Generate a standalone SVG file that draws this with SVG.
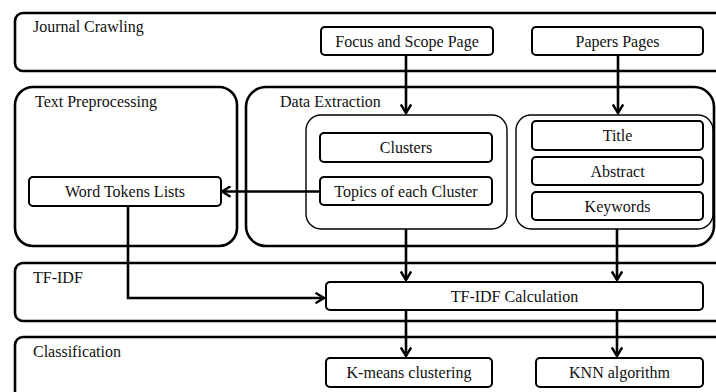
<svg xmlns="http://www.w3.org/2000/svg" width="716" height="392" viewBox="0 0 716 392">
<style>
.band{fill:none;stroke:#000;stroke-width:2.6}
.cont{fill:none;stroke:#000;stroke-width:1.4}
.node{fill:#fff;stroke:#000;stroke-width:2}
.lbl{font-family:'Liberation Serif','DejaVu Serif',serif;font-size:16px;fill:#111}
.t{font-family:'Liberation Serif','DejaVu Serif',serif;font-size:16px;fill:#111;text-anchor:middle}
.c{fill:none;stroke:#000;stroke-width:2.6}
</style>
<defs>
<marker id="ah" viewBox="0 0 12 12" refX="10.5" refY="6" markerWidth="12" markerHeight="12" markerUnits="userSpaceOnUse" orient="auto">
<path d="M2,0.8 L10.5,6 L2,11.2" fill="none" stroke="#000" stroke-width="2.4"/>
</marker>
</defs>
<rect width="716" height="392" fill="#fff"/>
<g id="journal-crawling">
<rect class="band" x="15" y="13" width="720" height="58" rx="8"/>
<text class="lbl" x="33" y="32">Journal Crawling</text>
</g>
<g id="text-preprocessing">
<rect class="band" x="15" y="87" width="222" height="159" rx="18"/>
<text class="lbl" x="35" y="107">Text Preprocessing</text>
</g>
<g id="data-extraction">
<rect class="band" x="246" y="87" width="468" height="159" rx="20"/>
<text class="lbl" x="280" y="107">Data Extraction</text>
</g>
<g id="tf-idf">
<rect class="band" x="15" y="263" width="720" height="58" rx="8"/>
<text class="lbl" x="33" y="283">TF-IDF</text>
</g>
<g id="classification">
<rect class="band" x="15" y="337" width="720" height="70" rx="8"/>
<text class="lbl" x="33" y="357">Classification</text>
</g>
<g id="cluster-container"><rect class="cont" x="306" y="115" width="201" height="114" rx="15"/></g>
<g id="paper-container"><rect class="cont" x="516" y="115" width="197" height="114" rx="15"/></g>
<g id="focus-scope"><rect class="node" x="321" y="27" width="172" height="28" rx="4"/><text class="t" x="407" y="46.5">Focus and Scope Page</text></g>
<g id="papers-pages"><rect class="node" x="532" y="27" width="171" height="28" rx="4"/><text class="t" x="617.5" y="46.5">Papers Pages</text></g>
<g id="word-tokens"><rect class="node" x="29" y="177" width="192" height="29" rx="4"/><text class="t" x="125" y="197">Word Tokens Lists</text></g>
<g id="clusters"><rect class="node" x="320" y="133" width="172" height="29" rx="4"/><text class="t" x="406" y="153">Clusters</text></g>
<g id="topics"><rect class="node" x="320" y="177" width="172" height="28" rx="4"/><text class="t" x="406" y="196.5">Topics of each Cluster</text></g>
<g id="title"><rect class="node" x="532" y="121" width="171" height="29" rx="4"/><text class="t" x="617.5" y="141">Title</text></g>
<g id="abstract"><rect class="node" x="532" y="157" width="171" height="28" rx="4"/><text class="t" x="617.5" y="176.5">Abstract</text></g>
<g id="keywords"><rect class="node" x="532" y="192" width="171" height="28" rx="4"/><text class="t" x="617.5" y="211.5">Keywords</text></g>
<g id="tfidf-calc"><rect class="node" x="326" y="282" width="377" height="28" rx="4"/><text class="t" x="514.5" y="301.5">TF-IDF Calculation</text></g>
<g id="kmeans"><rect class="node" x="326" y="358" width="166" height="29" rx="4"/><text class="t" x="409" y="378">K-means clustering</text></g>
<g id="knn"><rect class="node" x="536" y="358" width="167" height="29" rx="4"/><text class="t" x="619.5" y="378">KNN algorithm</text></g>
<g id="connectors">
<path class="c" d="M406,55 V113" marker-end="url(#ah)"/>
<path class="c" d="M618,55 V113" marker-end="url(#ah)"/>
<path class="c" d="M320,191.5 H222" marker-end="url(#ah)"/>
<path class="c" d="M128,206 V298 H324" marker-end="url(#ah)"/>
<path class="c" d="M406,229 V280" marker-end="url(#ah)"/>
<path class="c" d="M617,229 V280" marker-end="url(#ah)"/>
<path class="c" d="M406,310 V356" marker-end="url(#ah)"/>
<path class="c" d="M617,310 V356" marker-end="url(#ah)"/>
</g>
</svg>
